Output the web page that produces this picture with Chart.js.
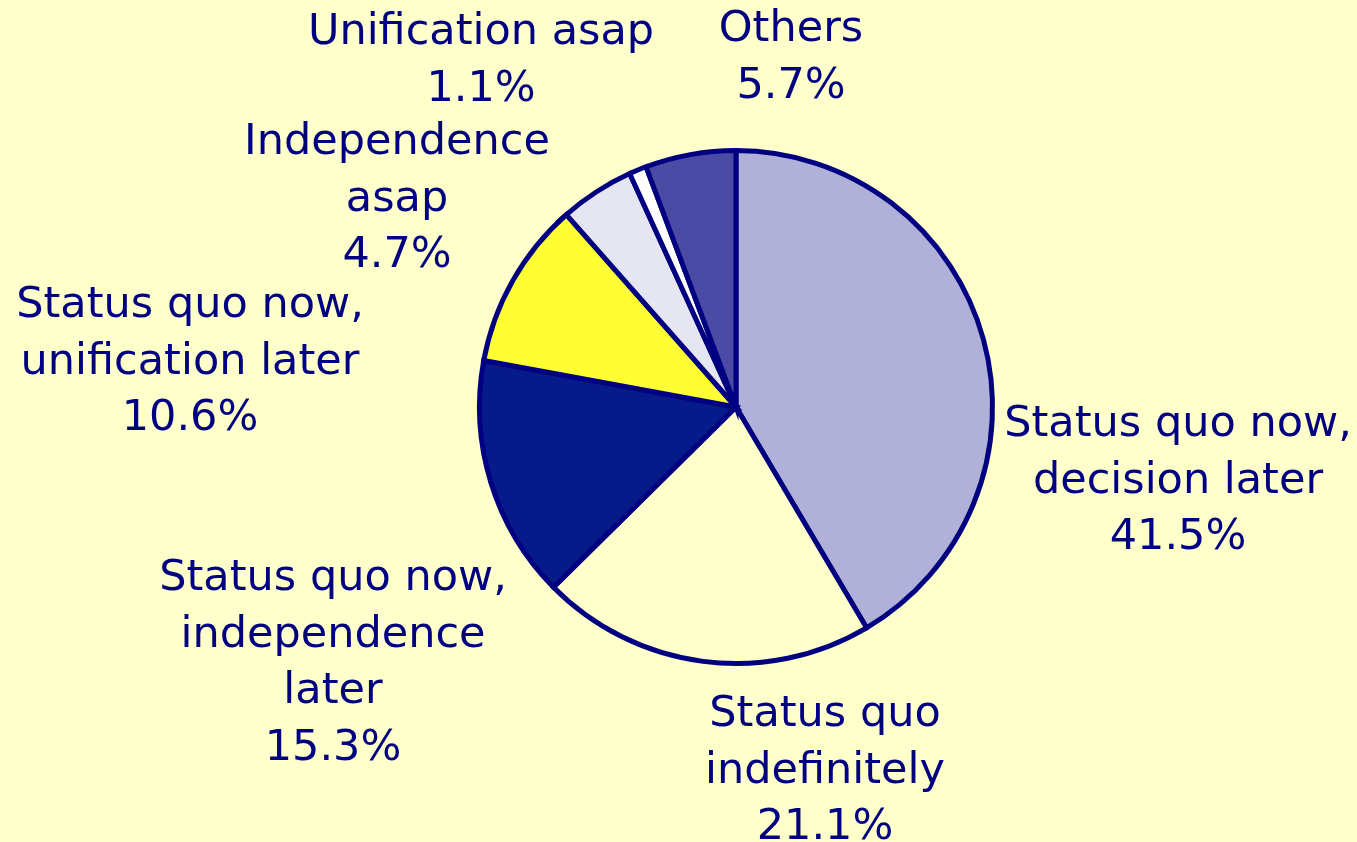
<!DOCTYPE html>
<html>
<head>
<meta charset="utf-8">
<script src="https://cdn.jsdelivr.net/npm/chart.js@4"></script>
<style>
html,body{margin:0;padding:0;background:#FFFFCC;}
#wrap{position:relative;width:1357px;height:842px;}
</style>
</head>
<body>
<div id="wrap"><canvas id="c" width="1357" height="842"></canvas></div>
<script>
const categories = [
  "Status quo now, decision later",
  "Status quo indefinitely",
  "Status quo now, independence later",
  "Status quo now, unification later",
  "Independence asap",
  "Unification asap",
  "Others"
];
const values = [41.5, 21.1, 15.3, 10.6, 4.7, 1.1, 5.7];
const labelLines = [
  ["Status quo now,", "decision later"],
  ["Status quo", "indefinitely"],
  ["Status quo now,", "independence", "later"],
  ["Status quo now,", "unification later"],
  ["Independence", "asap"],
  ["Unification asap"],
  ["Others"]
];
const sliceColors = ["#B0B0D8", "#FFFFCC", "#061A8A", "#FFFF33", "#E6E6F2", "#FFFFFF", "#4B4BA5"];
// label layout: center x, y of first line center
const labelPos = [
  [1178, 425], [825, 715], [333, 579], [190, 306], [397, 143], [481, 33], [791, 30]
];

const labelPlugin = {
  id: 'sliceLabels',
  afterDraw(chart) {
    const ctx = chart.ctx;
    ctx.save();
    ctx.fillStyle = '#000080';
    ctx.font = '43px "DejaVu Sans", sans-serif';
    ctx.textAlign = 'center';
    ctx.textBaseline = 'middle';
    const data = chart.data.datasets[0].data;
    data.forEach((v, i) => {
      const lines = labelLines[i].concat([v.toFixed(1) + '%']);
      const [x, y] = labelPos[i];
      lines.forEach((t, k) => ctx.fillText(t, x, y + k * 56.5));
    });
    ctx.restore();
  }
};

new Chart(document.getElementById('c'), {
  type: 'pie',
  data: {
    labels: categories,
    datasets: [{
      data: values,
      backgroundColor: sliceColors,
      borderColor: '#000080',
      borderWidth: 5,
      borderJoinStyle: 'miter'
    }]
  },
  options: {
    responsive: false,
    animation: false,
    layout: { padding: { left: 477, right: 362, top: 148, bottom: 176 } },
    plugins: { legend: { display: false }, tooltip: { enabled: false } }
  },
  plugins: [labelPlugin]
});
</script>
</body>
</html>
